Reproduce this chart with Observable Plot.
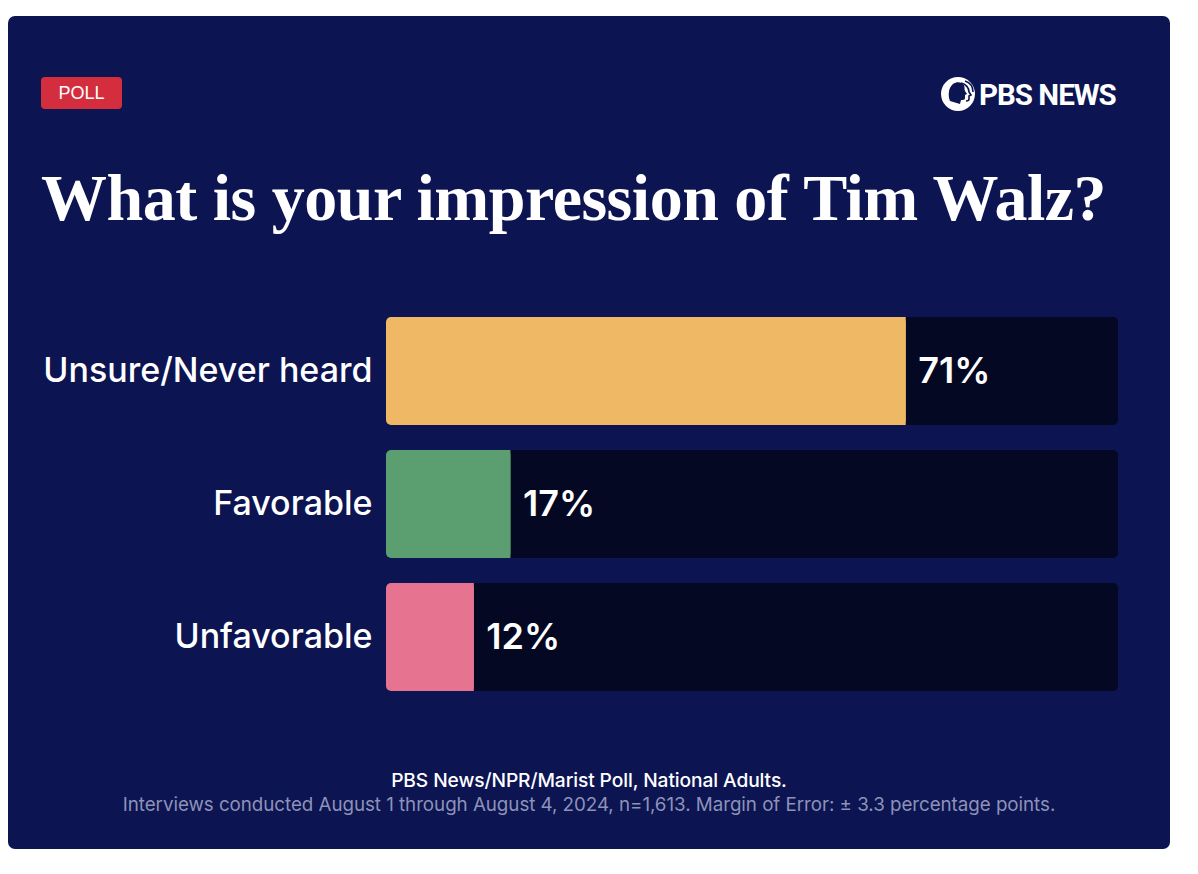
<!DOCTYPE html>
<html>
<head>
<meta charset="utf-8">
<script src="https://cdn.jsdelivr.net/npm/d3@7"></script>
<script src="https://cdn.jsdelivr.net/npm/@observablehq/plot@0.6"></script>
<style>
  html, body { margin: 0; padding: 0; background: #ffffff; }
  body { width: 1198px; height: 874px; position: relative; overflow: hidden; font-family: Inter, "Noto Sans", sans-serif; }
  #card { position: absolute; left: 8px; top: 16px; width: 1162px; height: 833px; background: #0c1452; border-radius: 7px; overflow: hidden; }
  #badge { position: absolute; left: 33px; top: 61px; width: 81px; height: 32px; background: #d42e3e; border-radius: 4px; color: #fff; font-family: "Liberation Sans", Arial, sans-serif; font-size: 18px; line-height: 33px; text-align: center; }
  #logo { position: absolute; left: 932px; top: 58px; }
  #title { position: absolute; left: 33px; top: 147px; margin: 0; color: #fff; font-family: "Liberation Serif", "DejaVu Serif", serif; font-weight: 700; font-size: 66px; line-height: 70px; white-space: nowrap; letter-spacing: -0.5px; }
  #plot { position: absolute; left: 0; top: 284px; }
  #src { position: absolute; left: 0; width: 1162px; top: 752px; text-align: center; color: #fff; font-size: 19.2px; font-weight: 500; letter-spacing: -0.1px; }
  #note { position: absolute; left: 0; width: 1162px; top: 777px; text-align: center; color: #8d92b8; font-size: 18.8px; letter-spacing: -0.05px; }
</style>
</head>
<body>
<div id="card">
  <div id="badge">POLL</div>
  <svg id="logo" width="190" height="40" viewBox="0 0 190 40">
    <circle cx="18" cy="20" r="17" fill="#fff"/>
    <path d="M10,27 C8,22 8,14 13,10 C17,7 22,8 24,11 C25,13 24,15 25,17 L27,20 L25,21 L25,24 C25,26 23,26 21,26 L20,30 Z" fill="#0c1452"/>
    <path d="M21,9 C26,10 29,14 29,18 L31,21 L29,22 L29,25 C29,27 27,27 26,27" fill="none" stroke="#0c1452" stroke-width="1.6"/>
    <path d="M25,7 C31,9 33,14 33,18" fill="none" stroke="#0c1452" stroke-width="1.6"/>
    <text x="39" y="31" fill="#fff" font-family="Roboto, 'Liberation Sans', sans-serif" font-weight="700" font-size="29.5" letter-spacing="-1">PBS NEWS</text>
  </svg>
  <h1 id="title">What is your impression of Tim Walz?</h1>
  <div id="plot"></div>
  <div id="src">PBS News/NPR/Marist Poll, National Adults.</div>
  <div id="note">Interviews conducted August 1 through August 4, 2024, n=1,613. Margin of Error: ± 3.3 percentage points.</div>
</div>
<script>
const categories = ["Unsure/Never heard", "Favorable", "Unfavorable"];
const values = [71, 17, 12];
const colors = ["#eeb865", "#5b9e70", "#e6738f"];

const data = categories.map((c, i) => ({category: c, value: values[i], color: colors[i]}));

const chart = Plot.plot({
  width: 1162,
  height: 400,
  marginLeft: 378,
  marginRight: 52,
  marginTop: 17,
  marginBottom: 9,
  x: {domain: [0, 100], axis: null},
  y: {domain: categories, axis: null, paddingInner: 0.19, paddingOuter: 0},
  style: {background: "transparent", overflow: "visible"},
  marks: [
    Plot.barX(data, {y: "category", x1: 0, x2: 100, fill: "#040822", rx: 5}),
    Plot.barX(data, {y: "category", x1: 0, x2: "value", fill: "color", rx: 5}),
    Plot.barX(data, {y: "category", x1: d => d.value / 2, x2: "value", fill: "color"}),
    Plot.text(data, {y: "category", x: 0, text: "category", dx: -14, textAnchor: "end", fill: "#fff", fontSize: 34, fontFamily: "Inter, sans-serif", fontWeight: 500, letterSpacing: -0.3}),
    Plot.text(data, {y: "category", x: "value", text: d => d.value + "%", dx: 12, textAnchor: "start", fill: "#fff", fontSize: 36, fontFamily: "Inter, sans-serif", fontWeight: 600, letterSpacing: -1.5})
  ]
});
document.getElementById("plot").appendChild(chart);
</script>
</body>
</html>
